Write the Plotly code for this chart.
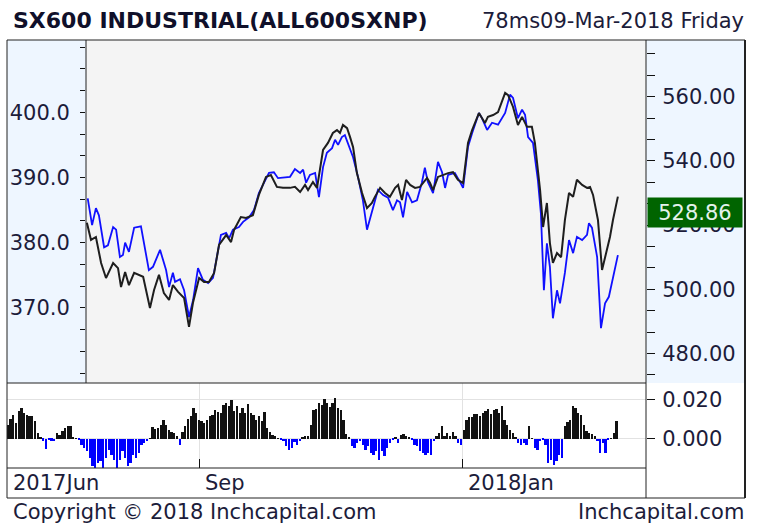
import plotly.graph_objects as go

W, H = 761, 523

# main chart: blue = index (left axis), black = price (right axis)
blue_sessions = [29.2, 30.8, 32.2, 33.3, 35.2, 36.6, 38.5, 39.6, 41.0, 42.1,
                 42.9, 44.3, 46.2, 48.7, 51.6, 53.1, 55.7, 57.9, 59.0, 60.4,
                 61.2, 63.0, 64.5, 66.3, 67.8, 69.6, 71.4, 73.3, 75.1, 76.9,
                 78.0, 79.9, 81.0, 82.4, 84.6, 86.1, 88.3, 90.1, 91.9, 93.8,
                 95.6, 97.4, 98.9, 103.3, 105.1, 107.0, 108.1, 109.2, 110.6, 112.5,
                 113.9, 115.4, 116.8, 118.7, 119.8, 120.9, 122.3, 123.4, 124.5, 126.4,
                 128.2, 130.0, 131.5, 132.6, 133.7, 135.5, 137.4, 139.2, 141.0, 142.5,
                 143.6, 144.7, 146.2, 148.0, 149.8, 151.6, 152.7, 153.8, 155.7, 157.5,
                 159.0, 160.1, 161.2, 163.7, 165.6, 166.7, 168.5, 170.0, 172.5, 173.6,
                 175.5, 177.3, 179.5, 182.1, 183.9, 185.0, 186.8, 188.3, 189.4, 190.5,
                 192.3, 194.1, 195.2, 195.6, 196.3, 197.4, 198.5, 199.6, 201.1, 202.2,
                 204.0, 205.5, 207.0, 208.4, 210.3, 212.1, 212.8, 213.9, 215.8, 217.2,
                 218.7, 220.1, 221.6, 223.4]
blue_values = [386.8, 382.7, 385.3, 384.2, 379.3, 379.6, 382.4, 382.0, 377.8, 378.1,
               380.0, 378.6, 382.3, 382.5, 375.8, 376.3, 378.9, 375.8, 373.2, 375.4,
               374.0, 374.4, 372.7, 368.6, 371.2, 376.1, 374.3, 373.8, 374.6, 378.9,
               381.2, 381.5, 380.7, 382.0, 382.4, 383.2, 383.9, 385.0, 387.6, 389.2,
               390.7, 390.8, 389.9, 390.1, 391.3, 390.7, 391.2, 389.2, 390.4, 390.7,
               387.0, 391.6, 393.8, 394.5, 395.8, 395.0, 396.2, 396.5, 395.3, 393.1,
               390.1, 386.5, 382.0, 383.8, 385.5, 388.1, 387.3, 386.9, 385.0, 386.5,
               386.2, 383.9, 387.8, 386.2, 386.5, 389.2, 391.5, 389.3, 387.6, 392.4,
               390.8, 388.4, 390.4, 390.7, 389.3, 388.4, 394.7, 396.8, 399.9, 399.1,
               397.3, 398.4, 398.1, 399.9, 402.7, 402.2, 399.1, 400.4, 399.6, 396.2,
               395.3, 389.6, 384.5, 380.9, 372.7, 379.9, 376.3, 368.4, 372.7, 370.7,
               375.4, 380.4, 378.4, 380.9, 380.4, 381.2, 383.0, 382.3, 377.8, 366.9,
               370.7, 371.7, 374.7, 378.1]

black_sessions = [28.9, 30.4, 32.2, 34.1, 35.9, 38.5, 40.3, 41.4, 42.9, 44.3,
                  46.2, 48.0, 49.5, 52.0, 53.5, 55.3, 57.1, 59.0, 60.4, 62.3,
                  64.5, 66.3, 67.8, 70.0, 71.8, 73.6, 75.5, 77.3, 79.9, 81.7,
                  82.8, 85.3, 87.2, 89.7, 91.9, 94.5, 96.3,
                  98.5, 100.7, 103.3, 105.1, 107.0, 108.8, 109.9, 111.7, 113.2, 114.3,
                  115.4, 117.2, 119.0, 120.5, 121.6, 122.7, 124.2, 125.3, 126.4, 127.8,
                  129.7, 131.5, 133.3, 134.4, 136.3, 138.1, 139.9, 141.8, 142.9, 144.3,
                  145.8, 147.3, 149.1, 150.9, 152.0, 153.5, 154.6, 155.7, 157.5, 159.3,
                  161.2, 163.0, 164.8, 166.7, 168.5,
                  170.0, 172.5, 174.7, 175.8, 177.7, 179.5, 182.1, 183.2, 185.0, 186.8,
                  188.3, 190.1, 191.9, 193.0, 194.9, 196.0, 197.4, 198.5, 199.6, 201.1,
                  202.6, 204.0, 205.5, 207.0, 208.4, 210.3, 212.1, 213.2, 214.3, 216.1,
                  217.6, 219.0, 220.5, 221.6, 223.4]
black_values = [520.7, 515.4, 516.3, 508.2, 503.5, 508.2, 506.6, 500.7, 505.4, 501.3,
                505.1, 504.5, 503.9, 494.2, 499.8, 504.5, 498.8, 496.7, 501.3, 499.2,
                497.3, 488.3, 496.0, 503.5, 502.3, 502.3, 505.1, 513.8, 516.9, 514.7,
                518.5, 522.5, 522.2, 523.1, 529.4, 535.0, 535.6,
                531.9, 531.6, 531.6, 531.9, 530.3, 532.5, 530.9, 533.4, 531.6, 537.2,
                543.4, 545.6, 548.7, 549.6, 548.7, 551.2, 550.2, 547.4, 544.3, 536.2,
                530.0, 525.3, 526.9, 528.8, 531.6, 530.0, 528.8, 531.6, 532.5, 527.8,
                534.1, 532.5, 531.6, 531.9, 533.1, 534.7, 533.1, 530.9, 535.0, 535.6,
                536.2, 536.5, 534.1, 533.1, 545.6,
                549.6, 554.9, 551.8, 553.7, 554.3, 555.2, 561.2, 560.5, 556.8, 551.2,
                553.7, 550.6, 550.6, 545.6, 530.9, 519.4, 526.9, 514.4, 508.2, 511.3,
                510.0, 521.6, 530.0, 528.8, 534.1, 532.5, 531.6, 531.9, 529.4, 521.6,
                506.0, 511.3, 516.3, 521.6, 528.86]
last_close = 528.86

# lower panel oscillator, one bar per session
hist_values = [0.0072, 0.010, 0.0123, 0.008, 0.014, 0.0157, 0.013, 0.0123, 0.0118, 0.0118,
               0.0089, 0.003, 0.001, -0.001, -0.0053, -0.0005, -0.001, -0.0014, 0.003, 0.002,
               0.0038, 0.0055, 0.0067, 0.0067, 0.001, 0.0003, -0.0005, -0.003, -0.0048, -0.0065,
               -0.010, -0.0142, -0.015, -0.0125, -0.0116, -0.015, -0.010, -0.0056, -0.0082, -0.0108,
               -0.015, -0.0108, -0.0065, -0.010, -0.0138, -0.0125, -0.0082, -0.010, -0.0074, -0.003,
               -0.0022, -0.0014, 0.0003, 0.006, 0.005, 0.0055, 0.0072, 0.0097, 0.0072, 0.0043,
               0.0032, 0.003, 0.0015, -0.003, 0.0032, 0.0063, 0.010, 0.0115, 0.0157, 0.013,
               0.0097, 0.0089, 0.008,
               0.0097, 0.0115, 0.0123, 0.0145, 0.0135, 0.013, 0.0174, 0.0183, 0.0166, 0.020,
               0.014, 0.0166, 0.013, 0.0157, 0.013, 0.018, 0.013, 0.0123, 0.0097, 0.0115,
               0.0089, 0.0137, 0.0055, 0.0032, 0.002, 0.0012, 0.0003, -0.0009, -0.0014, -0.0036,
               -0.006, -0.0048, -0.0019, -0.003, -0.0014, 0.0007, 0.0015, 0.0015, 0.0072, 0.0149,
               0.0152, 0.0183, 0.0174, 0.0203, 0.0183, 0.0162, 0.0183, 0.0209, 0.0157, 0.0149,
               0.0097, 0.0026, 0.0009, -0.0039, -0.0048, -0.0022, -0.0014, -0.003, -0.0056, -0.0039,
               -0.0074, -0.0082, -0.0065, -0.0111, -0.0065, -0.0091, -0.0048, -0.0022, -0.0009, 0.0007,
               -0.0022, 0.002, 0.0026, 0.0012, 0.0007, -0.0009, -0.003, -0.0039, -0.0065, -0.0074,
               -0.0082,
               -0.0074, -0.0082, -0.0014, 0.0015, 0.003, 0.0067, 0.0012, 0.003, 0.0015, 0.0032,
               0.0012, -0.0022, -0.003, 0.0046, 0.0097, 0.0111, 0.011, 0.0128, 0.0128, 0.0115,
               0.0132, 0.014, 0.0152, 0.0128, 0.0149, 0.0152, 0.0132, 0.0169, 0.0097, 0.0072,
               0.0046, 0.003, 0.0009, -0.0022, -0.003, -0.0022, -0.003, 0.0067, 0.0003, -0.0048,
               -0.0056, -0.0014, -0.0005, -0.003, -0.0125, -0.0108, -0.0133, -0.0116, -0.0082, -0.010,
               0.0063, 0.0084, 0.0097, 0.0169, 0.0157, 0.0132, 0.0123, 0.0072, 0.0038, 0.003,
               0.0026, 0.0015, -0.0014, -0.0074, -0.0022, -0.0074, -0.0009, 0.0003, 0.003, 0.0089]
hist_sessions = list(range(len(hist_values)))

month_sessions = [-0.3, 70.0, 166.3]
month_labels = ["2017Jun", "Sep", "2018Jan"]

FONT = "DejaVu Sans"
TXT = "#1c1c3a"
PANEL = "#eef6ff"


def px(x):
    return x / W


def py(y):
    return 1 - y / H


fig = go.Figure()
fig.add_trace(go.Scatter(x=black_sessions, y=black_values, mode="lines", xaxis="x", yaxis="y2",
                         line=dict(color="#1e1e1e", width=2)))
fig.add_trace(go.Scatter(x=blue_sessions, y=blue_values, mode="lines", xaxis="x", yaxis="y",
                         line=dict(color="#1010ff", width=1.8)))
fig.add_trace(go.Bar(x=hist_sessions, y=hist_values, xaxis="x2", yaxis="y3", width=0.65,
                     marker=dict(color=["#111111" if v >= 0 else "#0000ff" for v in hist_values],
                                 line=dict(width=0))))

shapes = [
    dict(type="rect", xref="paper", yref="paper", x0=px(7), x1=px(86), y0=py(383), y1=py(40),
         fillcolor=PANEL, line=dict(width=0), layer="below"),
    dict(type="rect", xref="paper", yref="paper", x0=px(646), x1=px(745), y0=py(383), y1=py(40),
         fillcolor=PANEL, line=dict(width=0), layer="below"),
    dict(type="rect", xref="paper", yref="paper", x0=px(86), x1=px(646), y0=py(383), y1=py(40),
         fillcolor="#f4f4f4", line=dict(width=0), layer="below"),
]
frame = [((7, 40), (745, 40)), ((7, 498), (745, 498)), ((7, 40), (7, 498)),
         ((86, 40), (86, 383)), ((646, 40), (646, 498)),
         ((7, 383), (646, 383)), ((7, 468), (646, 468))]
for (a, b) in frame:
    shapes.append(dict(type="line", xref="paper", yref="paper", x0=px(a[0]), y0=py(a[1]),
                       x1=px(b[0]), y1=py(b[1]), line=dict(color="#222", width=1), layer="above"))
shapes.append(dict(type="line", xref="paper", yref="paper", x0=px(745), x1=px(745), y0=py(40), y1=py(498),
                   line=dict(color="#222", width=2), layer="above"))

annotations = [
    dict(text="<b>SX600 INDUSTRIAL(ALL600SXNP)</b>", xref="paper", yref="paper", x=px(11), y=py(21),
         xanchor="left", yanchor="middle", showarrow=False, font=dict(family=FONT, size=22, color="#10102a")),
    dict(text="78ms09-Mar-2018 Friday", xref="paper", yref="paper", x=px(746), y=py(21),
         xanchor="right", yanchor="middle", showarrow=False, font=dict(family=FONT, size=21, color=TXT)),
    dict(text="Copyright © 2018 Inchcapital.com", xref="paper", yref="paper", x=px(11), y=py(512),
         xanchor="left", yanchor="middle", showarrow=False, font=dict(family=FONT, size=21, color=TXT)),
    dict(text="Inchcapital.com", xref="paper", yref="paper", x=px(746), y=py(512),
         xanchor="right", yanchor="middle", showarrow=False, font=dict(family=FONT, size=21, color=TXT)),
    dict(text=f"{last_close:.2f}", xref="paper", yref="y2", x=px(647), y=last_close,
         xanchor="left", yanchor="top", showarrow=False, bgcolor="#006400", width=92, height=27,
         font=dict(family=FONT, size=21, color="#e4f2ec")),
]
for s, lab in zip(month_sessions, month_labels):
    annotations.append(dict(text=lab, xref="x2", yref="paper", x=s, y=py(483), xshift=4,
                            xanchor="left", yanchor="middle", showarrow=False,
                            font=dict(family=FONT, size=21, color=TXT)))

tickfont = dict(family=FONT, size=21, color=TXT)
fig.update_layout(
    width=W, height=H, margin=dict(l=0, r=0, t=0, b=0),
    paper_bgcolor="white", plot_bgcolor="rgba(0,0,0,0)",
    showlegend=False, bargap=0,
    shapes=shapes, annotations=annotations,
    xaxis=dict(domain=[px(86), px(646)], range=[28.57, 233.7], anchor="y",
               showticklabels=False, showgrid=False, zeroline=False, ticks=""),
    yaxis=dict(domain=[py(383), py(40)], range=[358.48, 411.09], anchor="x", side="left",
               tickmode="array", tickvals=[370, 380, 390, 400], tickformat=".1f",
               ticks="outside", ticklen=5, tickcolor="#111", ticklabelstandoff=6,
               minor=dict(tickmode="linear", tick0=370, dtick=10 / 3, ticks="outside", ticklen=5,
                          tickcolor="#111"),
               showgrid=False, zeroline=False, tickfont=tickfont),
    yaxis2=dict(range=[470.81, 577.66], overlaying="y", anchor="x", side="right",
                tickmode="linear", tick0=480, dtick=20, tickformat=".2f",
                ticks="outside", ticklen=8, tickcolor="#111", ticklabelstandoff=3,
                minor=dict(tickmode="linear", tick0=480, dtick=20 / 3, ticks="outside", ticklen=8,
                           tickcolor="#111"),
                showgrid=False, zeroline=False, tickfont=tickfont),
    xaxis2=dict(domain=[px(7), px(646)], range=[-0.37, 233.7], anchor="y3",
                tickmode="array", tickvals=month_sessions, showticklabels=False,
                ticks="inside", ticklen=9, tickcolor="#111",
                showgrid=True, gridcolor="#e2e2e2", zeroline=False),
    yaxis3=dict(domain=[py(468), py(383)], range=[-0.01503, 0.02856], anchor="x2", side="right",
                tickmode="array", tickvals=[0, 0.02], tickformat=".3f",
                ticks="outside", ticklen=8, tickcolor="#111", ticklabelstandoff=3,
                showgrid=True, gridcolor="#e2e2e2", zeroline=False, tickfont=tickfont),
)

# the page's default body margin would shift the figure by 8px
fig.write_html("out.html", config={"displayModeBar": False},
               post_script="document.body.style.margin = '0';")
